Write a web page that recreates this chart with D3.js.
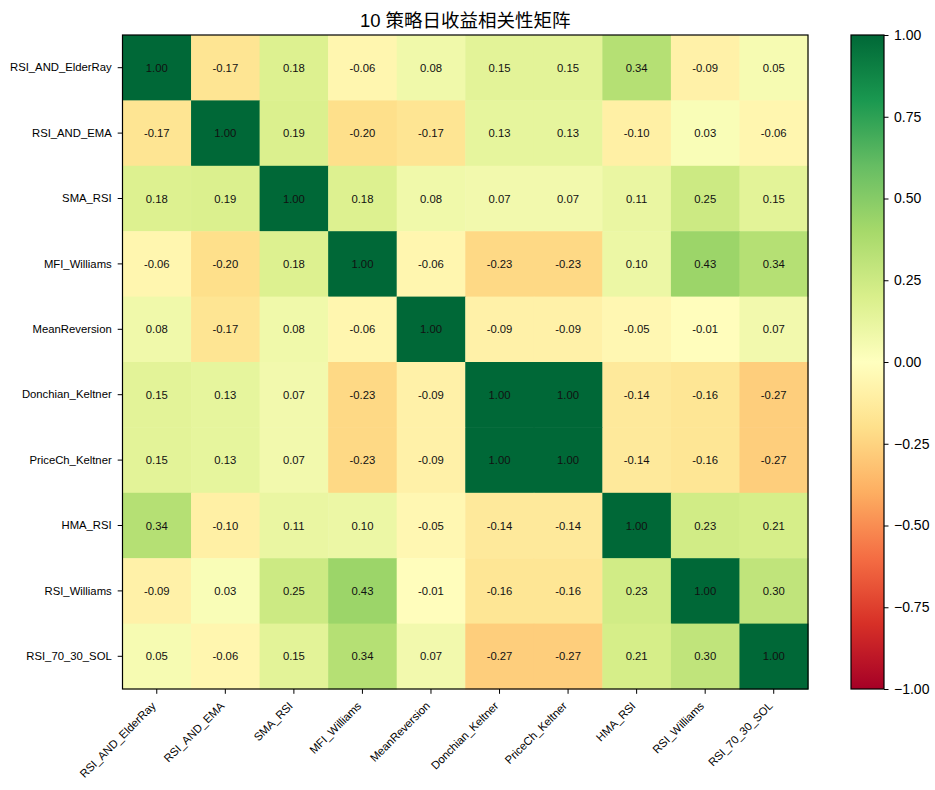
<!DOCTYPE html>
<html><head><meta charset="utf-8">
<script src="https://cdn.jsdelivr.net/npm/d3@7"></script>
<style>body{margin:0;background:#fff;} text{font-family:"Liberation Sans","Noto Sans CJK SC",sans-serif;}</style>
</head><body><svg id="c" width="935" height="790"></svg>
<script>
const strategies = ["RSI_AND_ElderRay","RSI_AND_EMA","SMA_RSI","MFI_Williams","MeanReversion","Donchian_Keltner","PriceCh_Keltner","HMA_RSI","RSI_Williams","RSI_70_30_SOL"];
const corrRSI_AND_ElderRay = [1.00,-0.17,0.18,-0.06,0.08,0.15,0.15,0.34,-0.09,0.05];
const corrRSI_AND_EMA      = [-0.17,1.00,0.19,-0.20,-0.17,0.13,0.13,-0.10,0.03,-0.06];
const corrSMA_RSI          = [0.18,0.19,1.00,0.18,0.08,0.07,0.07,0.11,0.25,0.15];
const corrMFI_Williams     = [-0.06,-0.20,0.18,1.00,-0.06,-0.23,-0.23,0.10,0.43,0.34];
const corrMeanReversion    = [0.08,-0.17,0.08,-0.06,1.00,-0.09,-0.09,-0.05,-0.01,0.07];
const corrDonchian_Keltner = [0.15,0.13,0.07,-0.23,-0.09,1.00,1.00,-0.14,-0.16,-0.27];
const corrPriceCh_Keltner  = [0.15,0.13,0.07,-0.23,-0.09,1.00,1.00,-0.14,-0.16,-0.27];
const corrHMA_RSI          = [0.34,-0.10,0.11,0.10,-0.05,-0.14,-0.14,1.00,0.23,0.21];
const corrRSI_Williams     = [-0.09,0.03,0.25,0.43,-0.01,-0.16,-0.16,0.23,1.00,0.30];
const corrRSI_70_30_SOL    = [0.05,-0.06,0.15,0.34,0.07,-0.27,-0.27,0.21,0.30,1.00];
const colorbarTicks = [-1,-0.75,-0.5,-0.25,0,0.25,0.5,0.75,1];
const titleText = "10 策略日收益相关性矩阵";

const matrix = [corrRSI_AND_ElderRay,corrRSI_AND_EMA,corrSMA_RSI,corrMFI_Williams,corrMeanReversion,
  corrDonchian_Keltner,corrPriceCh_Keltner,corrHMA_RSI,corrRSI_Williams,corrRSI_70_30_SOL];

const rdylgn = ["#a50026","#d73027","#f46d43","#fdae61","#fee08b","#ffffbf","#d9ef8b","#a6d96a","#66bd63","#1a9850","#006837"];
const color = d3.scaleLinear().domain(d3.range(11).map(i=>-1+i*0.2)).range(rdylgn).interpolate(d3.interpolateRgb).clamp(true);

const svg = d3.select("#c");
const L=122.5, R=808, T=35, B=689;
const x = d3.scaleBand().domain(strategies).range([L,R]);
const y = d3.scaleBand().domain(strategies).range([T,B]);

const cells=[];
matrix.forEach((row,i)=>row.forEach((v,j)=>cells.push({r:strategies[i],c:strategies[j],v})));

svg.append("g").selectAll("rect").data(cells).join("rect")
  .attr("x",d=>x(d.c)).attr("y",d=>y(d.r))
  .attr("width",x.bandwidth()+0.5).attr("height",y.bandwidth()+0.5)
  .attr("fill",d=>color(d.v));

svg.append("g").selectAll("text").data(cells).join("text")
  .attr("x",d=>x(d.c)+x.bandwidth()/2).attr("y",d=>y(d.r)+y.bandwidth()/2)
  .attr("text-anchor","middle").attr("dominant-baseline","central")
  .attr("font-size",11.3).attr("fill","#111")
  .text(d=>d.v.toFixed(2));

svg.append("rect").attr("x",L).attr("y",T).attr("width",R-L).attr("height",B-T)
  .attr("fill","none").attr("stroke","#000").attr("stroke-width",1.2);

const xa = svg.append("g").attr("transform",`translate(0,${B})`)
  .call(d3.axisBottom(x).tickSize(4.8).tickPadding(3));
xa.select(".domain").remove();
xa.selectAll("text").attr("font-size",11.3).attr("fill","#000")
  .attr("text-anchor","end").attr("dy",null).attr("dominant-baseline","hanging")
  .attr("transform","translate(-6,12) rotate(-45)").attr("y",0).attr("x",0);
xa.selectAll("line").attr("stroke","#000");

const ya = svg.append("g").attr("transform",`translate(${L},0)`)
  .call(d3.axisLeft(y).tickSize(4.8).tickPadding(6));
ya.select(".domain").remove();
ya.selectAll("text").attr("font-size",11.3).attr("fill","#000");
ya.selectAll("line").attr("stroke","#000");

svg.append("text").attr("x",(L+R)/2).attr("y",27).attr("text-anchor","middle")
  .attr("font-size",18.5).attr("fill","#000").text(titleText);

// colorbar
const CL=851, CR=884;
const cy = d3.scaleLinear().domain([-1,1]).range([B,T]);
const defs = svg.append("defs");
const grad = defs.append("linearGradient").attr("id","cb").attr("x1",0).attr("y1",1).attr("x2",0).attr("y2",0);
d3.range(0,1.0001,0.05).forEach(t=>grad.append("stop").attr("offset",t).attr("stop-color",color(-1+2*t)));
svg.append("rect").attr("x",CL).attr("y",T).attr("width",CR-CL).attr("height",B-T).attr("fill","url(#cb)")
  .attr("stroke","#000").attr("stroke-width",1.2);
const ca = svg.append("g").attr("transform",`translate(${CR},0)`)
  .call(d3.axisRight(cy).tickValues(colorbarTicks).tickFormat(d3.format(".2f")).tickSize(4.5).tickPadding(5.5));
ca.select(".domain").remove();
ca.selectAll("text").attr("font-size",14).attr("fill","#000");
ca.selectAll("line").attr("stroke","#000");
</script></body></html>
